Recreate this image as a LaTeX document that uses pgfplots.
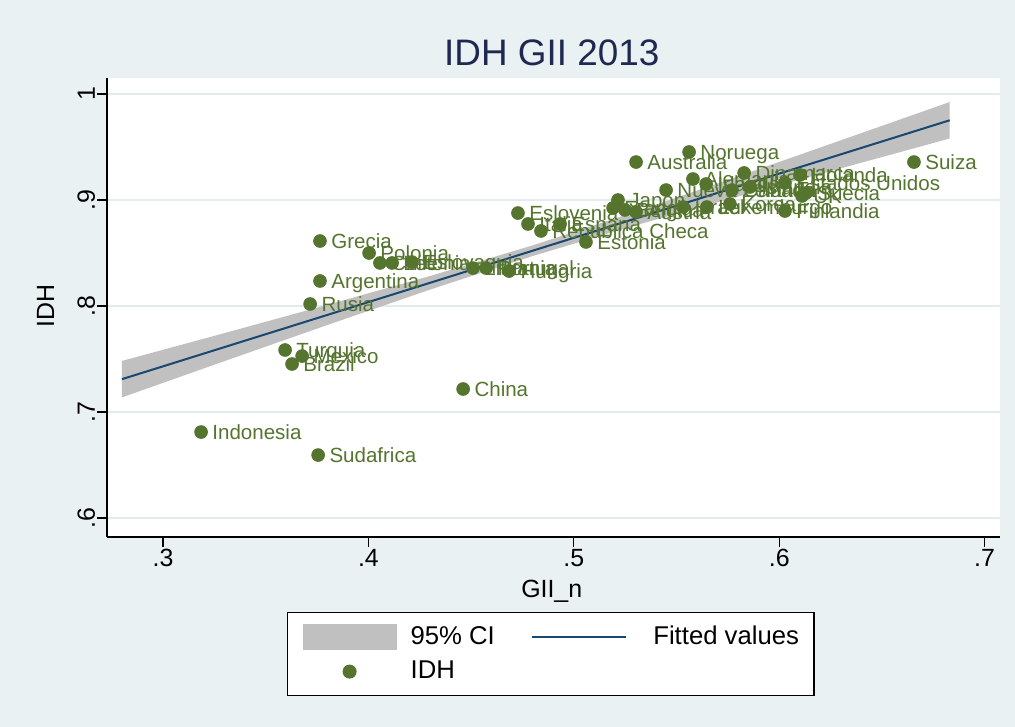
\documentclass[border=0pt]{standalone}
\usepackage{fontspec}
\setmainfont{Liberation Sans}
\usepackage{pgfplots}
\pgfplotsset{compat=1.18}
\usepackage{pgfplotstable}
\usetikzlibrary{calc}

\definecolor{bgc}{RGB}{233,241,243}
\definecolor{gridc}{RGB}{226,236,239}
\definecolor{fgreen}{RGB}{85,117,47}
\definecolor{snavy}{RGB}{26,71,111}
\definecolor{cigray}{RGB}{192,192,192}
\definecolor{titc}{RGB}{30,40,80}

\pgfplotstableread[col sep=comma]{
x,y,label
0.5561,0.9453,Noruega
0.5303,0.9358,Australia
0.6656,0.9358,Suiza
0.5829,0.9255,Dinamarca
0.6101,0.9236,Holanda
0.6028,0.9160,Estados Unidos
0.5580,0.9198,Alemania
0.5644,0.9151,Irlanda
0.5449,0.9094,Nueva Zelanda
0.5770,0.9094,Canada
0.5858,0.9123,Islandia
0.6130,0.9066,Suecia
0.6111,0.9038,UK
0.6028,0.8896,Finlandia
0.5648,0.8934,Luxemburgo
0.5760,0.8962,Korea
0.5532,0.8934,Israel
0.5215,0.9000,Japon
0.5249,0.8906,Belgica
0.5191,0.8925,Francia
0.5303,0.8887,Austria
0.4728,0.8877,Eslovenia
0.4777,0.8774,Italia
0.4933,0.8774,Espana
0.4840,0.8708,Republica Checa
0.5059,0.8604,Estonia
0.3764,0.8613,Grecia
0.4003,0.8500,Polonia
0.3764,0.8236,Argentina
0.4056,0.8406,Chile
0.4115,0.8406,Letonia
0.4212,0.8415,Eslovaquia
0.4509,0.8358,Lituania
0.4573,0.8358,Portugal
0.4685,0.8330,Hungria
0.3716,0.8019,Rusia
0.3594,0.7585,Turquia
0.3677,0.7528,Mexico
0.3628,0.7453,Brazil
0.4461,0.7217,China
0.3185,0.6811,Indonesia
0.3755,0.6594,Sudafrica
}\idh

\begin{document}
\begin{tikzpicture}
\fill[bgc] (0,0) rectangle (507.5bp,363.5bp);
\useasboundingbox (0,0) rectangle (507.5bp,363.5bp);
\begin{axis}[
  at={(53.5bp,95bp)}, anchor=south west,
  scale only axis, width=446.5bp, height=229.5bp,
  xmin=0.2727, xmax=0.7075, ymin=0.5821, ymax=1.0151,
  axis x line*=bottom, axis y line*=left,
  axis line style={black, line width=0.6bp},
  axis background/.style={fill=white},
  xtick={0.3,0.4,0.5,0.6,0.7}, xticklabels={.3,.4,.5,.6,.7},
  ytick={0.6,0.7,0.8,0.9,1}, yticklabels={.6,.7,.8,.9,1},
  tick align=outside, major tick length=5bp,
  tick style={black, line width=0.6bp},
  ymajorgrids, grid style={gridc, line width=0.9bp},
  ticklabel style={font=\fontsize{12.5}{14}\selectfont, inner sep=0pt},
  xticklabel style={anchor=base},
  xticklabel shift=9.5bp,
  yticklabel style={rotate=90, anchor=base},
  yticklabel shift=1bp,
  title={IDH GII 2013},
  title style={at={(0.498,1)}, anchor=base, yshift=0.5bp, font=\fontsize{18.5}{22}\selectfont, text=titc},
  xlabel={GII\_n},
  every axis x label/.style={at={($(rel axis cs:0.498,0)+(0,-30bp)$)}, anchor=base, font=\fontsize{12.5}{14}\selectfont},
  ylabel={IDH},
  every axis y label/.style={at={($(rel axis cs:0,0.503)+(-26.5bp,0)$)}, rotate=90, anchor=base, font=\fontsize{12.5}{14}\selectfont},
  legend columns=2,
  legend style={at={(0.497,-0.1634)}, anchor=north, draw=black, line width=0.6bp, fill=white,
    font=\fontsize{12.9}{14}\selectfont, inner xsep=7.5bp, inner ysep=5.5bp, row sep=4.5bp,
    nodes={inner sep=0pt},
    /tikz/every odd column/.append style={column sep=7bp},
    /tikz/every even column/.append style={column sep=18.2bp}},
  legend cell align=left,
]
\addplot[fill=cigray, draw=none,
  legend image code/.code={\fill[cigray] (0,-6.5bp) rectangle (47bp,6.5bp);}]
  coordinates {(0.28,0.7482) (0.33,0.7745) (0.38,0.8011) (0.43,0.8283) (0.48,0.8572) (0.53,0.8889) (0.58,0.9223) (0.63,0.9563) (0.683,0.9924)
               (0.683,0.9580) (0.63,0.9299) (0.58,0.9033) (0.53,0.8761) (0.48,0.8472) (0.43,0.8155) (0.38,0.7821) (0.33,0.7481) (0.28,0.7138)} -- cycle;
\addlegendentry{95\% CI}
\addplot[snavy, line width=1bp,
  legend image code/.code={\path[draw=none, fill=none] (0,-6.5bp) rectangle (53.5bp,6.5bp); \draw[snavy, line width=1bp] (0,0) -- (47bp,0);}]
  coordinates {(0.28,0.731) (0.683,0.9752)};
\addlegendentry{Fitted values}
\addplot[only marks, mark=*, mark size=3.2bp, fgreen,
  nodes near coords, point meta=explicit symbolic,
  nodes near coords style={anchor=base west, font=\fontsize{10.3}{12}\selectfont, text=fgreen, inner sep=0pt, xshift=5.5bp, yshift=-3.7bp},
  legend image code/.code={\path[draw=none, fill=none] (0,-6.5bp) rectangle (47bp,6.5bp); \fill[fgreen] (23.5bp,0) circle (3.2bp);}]
  table[x=x, y=y, meta=label] {\idh};
\addlegendentry{IDH}
\end{axis}
\end{tikzpicture}
\end{document}
